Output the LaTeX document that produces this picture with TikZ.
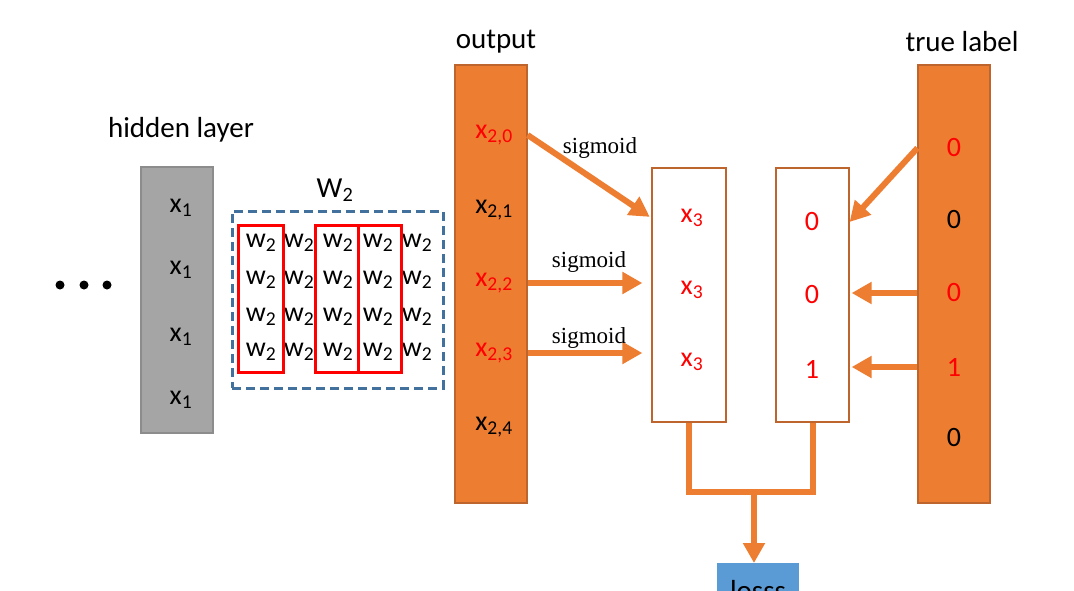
\documentclass[tikz,border=0pt]{standalone}
\usepackage{fontspec}
\setmainfont{Carlito}
\newfontfamily\sigfont{Liberation Serif}
\usetikzlibrary{positioning,arrows.meta}
\definecolor{netOrange}{RGB}{237,125,49}
\definecolor{netOrangeDark}{RGB}{190,100,45}
\definecolor{netGray}{RGB}{165,165,165}
\definecolor{netGrayDark}{RGB}{140,140,140}
\definecolor{netBlue}{RGB}{65,113,156}
\definecolor{netLoss}{RGB}{91,155,213}
\definecolor{netRed}{RGB}{255,0,0}
\newcommand{\withsub}[2]{#1\textsubscript{#2}}

\begin{document}
\begin{tikzpicture}[x=1pt,y=-1pt,
    col/.style={draw,line width=1.2,minimum width=72,inner sep=0pt},
    lbl/.style={font=\fontsize{28}{30}\selectfont,inner sep=0pt},
    head/.style={font=\fontsize{29}{32}\selectfont,inner sep=0pt},
    sig/.style={font=\sigfont\fontsize{23}{26}\selectfont,inner sep=0pt},
    arr/.style={netOrange,line width=6,-{Triangle[length=20pt,width=21pt]}},
    pipe/.style={netOrange,line width=6},
    redbox/.style={netRed,line width=3}]
    \useasboundingbox (0,0) rectangle (1074,591);
    \clip (0,0) rectangle (1074,591);

    % hidden layer
    \node[head] (hidlbl) at (181,130) {hidden layer};
    \node[col,fill=netGray,draw=netGrayDark,minimum height=266] (hidden) at (177,300) {};
    \foreach \y [count=\i] in {208,270,337,400}
      \node[lbl] (h\i) at (181,\y) {\withsub{x}{1}};
    \foreach \x in {60,84,107}
      \fill (\x,285) circle (4.5);

    % weights
    \node[head] (wlbl) at (335,190) {\withsub{W}{2}};
    \node[draw=netBlue,dashed,dash pattern=on 9pt off 5pt,line width=3,
      minimum width=211,minimum height=177,inner sep=0pt] (wbox) at (337.5,299.5) {};
    \foreach \x [count=\j] in {261,299,338,378,417}
      \foreach \y [count=\i] in {243,280,317,352}
        \node[lbl] (w\i\j) at (\x,\y) {\withsub{w}{2}};
    \draw[redbox] (238,225) rectangle (283,372);
    \draw[redbox] (315,225) rectangle (358,372);
    \draw[redbox] (358,225) rectangle (401,372);

    % output
    \node[head] (outlbl) at (496,42) {output};
    \node[col,fill=netOrange,draw=netOrangeDark,minimum height=438] (out) at (491,284) {};
    \foreach \y/\c [count=\i from 0] in {135/netRed,210/black,283/netRed,353/netRed,427/black}
      \node[lbl,text=\c] (o\i) at (494,\y) {\withsub{x}{2,\i}};

    % sigmoid results
    \node[col,fill=white,draw=netOrangeDark,minimum width=74,minimum height=254] (sbox) at (689,295) {};
    \foreach \y [count=\i] in {218,290,362}
      \node[lbl,text=netRed] (s\i) at (692,\y) {\withsub{x}{3}};

    % picked labels
    \node[col,fill=white,draw=netOrangeDark,minimum width=73,minimum height=254] (lbox) at (812.5,295) {};
    \foreach \y/\v [count=\i] in {222/0,295/0,369/1}
      \node[lbl,text=netRed] (l\i) at (812,\y) {\v};

    % true label
    \node[head] (truelbl) at (962,42) {true label};
    \node[col,fill=netOrange,draw=netOrangeDark,minimum height=438] (truel) at (954,284) {};
    \foreach \y/\c/\v [count=\i from 0] in {148/netRed/0,220/black/0,293/netRed/0,367/netRed/1,438/black/0}
      \node[lbl,text=\c] (t\i) at (954,\y) {\v};

    % connectors
    \draw[arr,shorten >=2pt] (out.east |- o0) -- (sbox.west |- s1);
    \draw[arr,shorten >=9pt] (out.east |- o2) -- (sbox.west |- o2);
    \draw[arr,shorten >=9pt] (out.east |- o3) -- (sbox.west |- o3);
    \node[sig] (sig0) at (600,148) {sigmoid};
    \node[sig] (sig2) at (589,262) {sigmoid};
    \node[sig] (sig3) at (589,338) {sigmoid};

    \draw[arr] (truel.west |- t0) -- (lbox.east |- l1);
    \draw[arr,shorten >=2pt] (truel.west |- t2) -- (lbox.east |- t2);
    \draw[arr,shorten >=2pt] (truel.west |- t3) -- (lbox.east |- t3);

    % loss
    \node[fill=netLoss,minimum width=82,minimum height=60,anchor=north,inner sep=0pt] (loss) at (758,563) {};
    \node[head,anchor=base] (losstxt) at (758,600) {losss};
    \coordinate (join) at (754,492);
    \draw[pipe] (sbox.south) |- (join) -| (lbox.south);
    \draw[arr] (join) -- (join |- loss.north);
\end{tikzpicture}
\end{document}
